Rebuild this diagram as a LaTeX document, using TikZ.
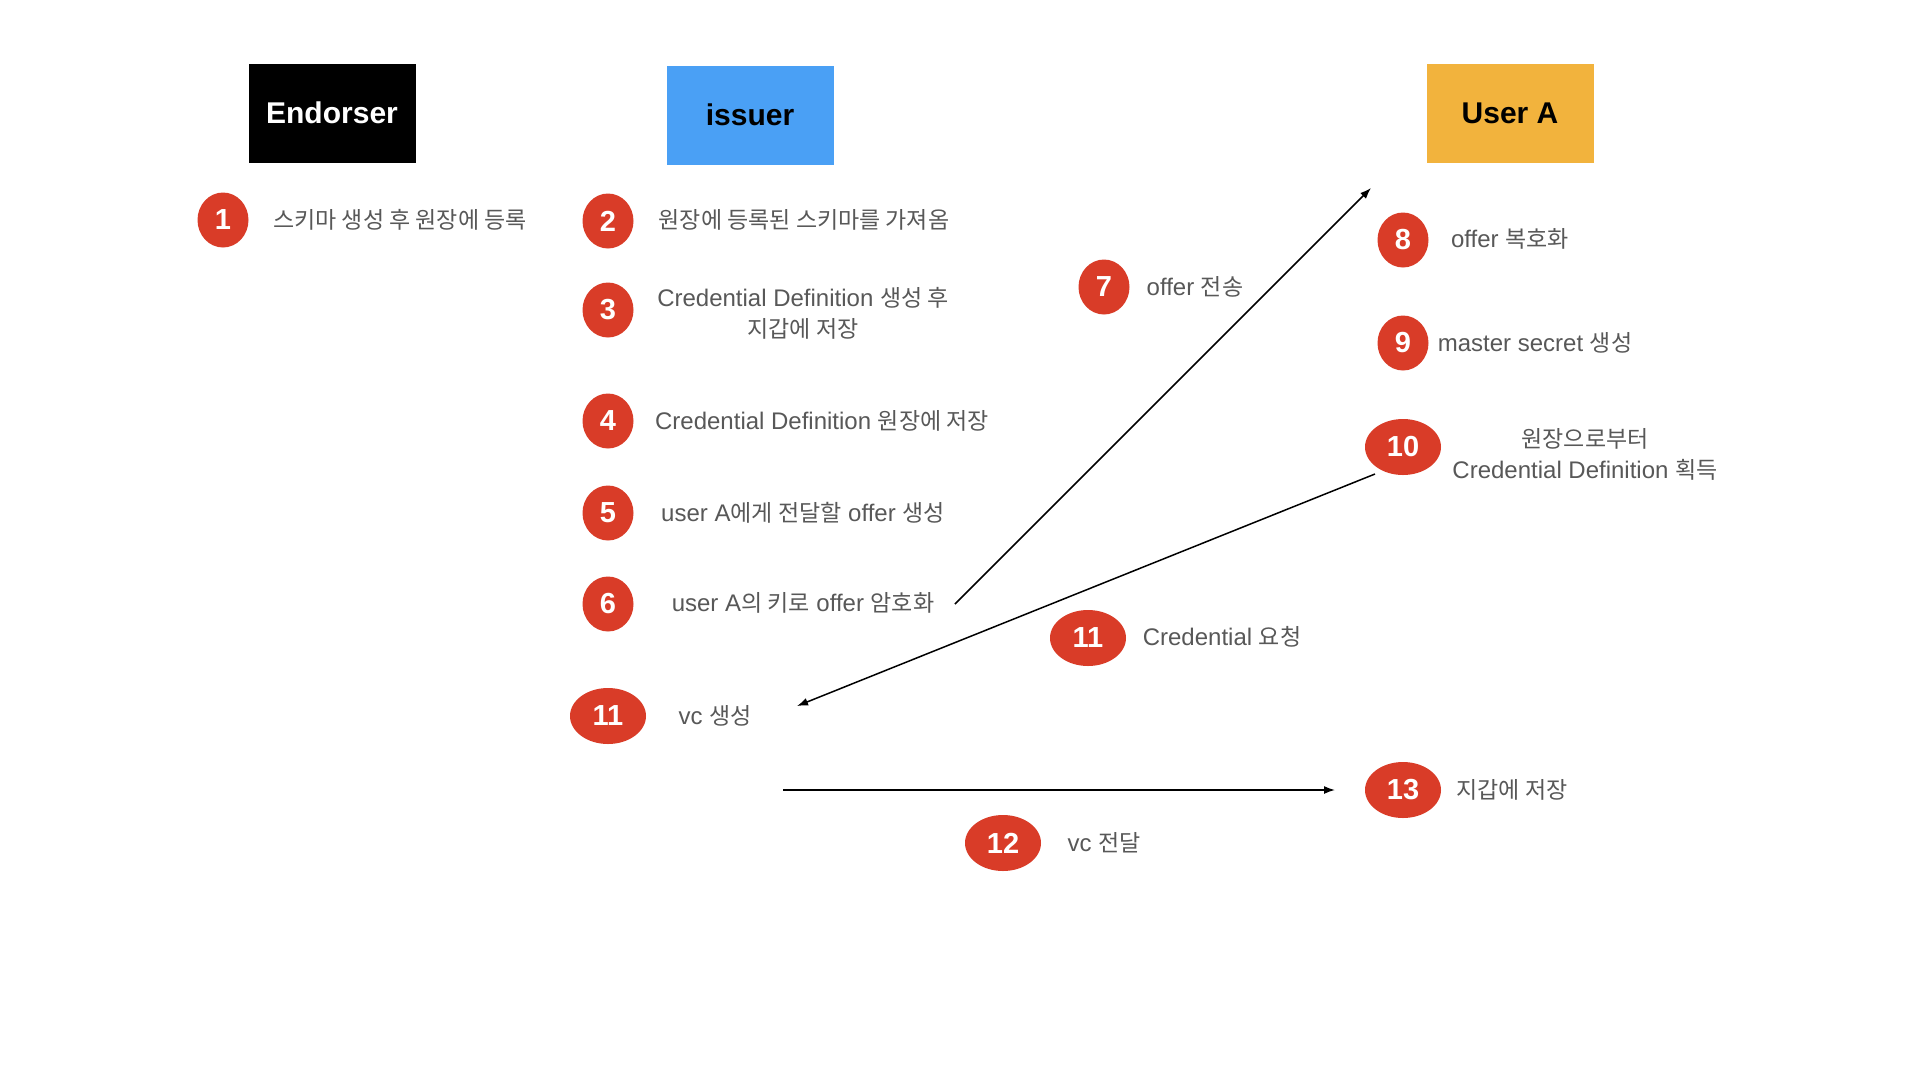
\documentclass[tikz,border=0pt]{standalone}
\usepackage{fontspec}
\setmainfont{Liberation Sans}
\newfontfamily\krfont{Noto Sans CJK KR}
\usetikzlibrary{shapes.geometric,arrows.meta}
\definecolor{numred}{RGB}{217,60,40}
\definecolor{issuerblue}{RGB}{74,160,245}
\definecolor{userorange}{RGB}{242,179,61}
\definecolor{txtgray}{RGB}{88,88,88}
\newcommand\K[1]{{\krfont\fontsize{23}{27}\selectfont #1}}
\begin{document}
\begin{tikzpicture}[x=1pt,y=-1pt,
  actor/.style={minimum width=167pt,minimum height=99pt,inner sep=0pt,font=\fontsize{30}{36}\selectfont\bfseries},
  num/.style={ellipse,fill=numred,text=white,minimum width=51pt,minimum height=55pt,inner sep=0pt,font=\fontsize{29}{34}\selectfont\bfseries},
  numw/.style={num,minimum width=76pt,minimum height=56pt},
  lbl/.style={text=txtgray,font=\fontsize{24}{30}\selectfont,inner sep=0pt,align=center},
  flow/.style={line width=1.5pt,-{Latex[length=11pt,width=8pt]}}]
\useasboundingbox (0,0) rectangle (1920,1080);
\fill[white] (0,0) rectangle (1920,1080);

% actors
\node[actor,fill=black,text=white] (endorser) at (332,113) {Endorser};
\node[actor,fill=issuerblue,text=black] (issuer) at (750,115) {issuer};
\node[actor,fill=userorange,text=black] (usera) at (1510,113) {User A};

% steps
\node[num] (n1) at (223,220) {1};
\node[lbl] (t1) at (400,220) {\K{스키마 생성 후 원장에 등록}};

\node[num] (n2) at (608,221) {2};
\node[lbl] (t2) at (804,220) {\K{원장에 등록된 스키마를 가져옴}};

\node[num] (n3) at (608,310) {3};
\node[lbl] (t3) at (803,313) {Credential Definition \K{생성 후}\\[1pt]\K{지갑에 저장}};

\node[num] (n4) at (608,421) {4};
\node[lbl] (t4) at (822,421) {Credential Definition \K{원장에 저장}};

\node[num] (n5) at (608,513) {5};
\node[lbl] (t5) at (803,513) {user A\K{에게 전달할} offer \K{생성}};

\node[num] (n6) at (608,604) {6};
\node[lbl] (t6) at (803,603) {user A\K{의 키로} offer \K{암호화}};

\node[num] (n7) at (1104,287) {7};
\node[lbl] (t7) at (1195,287) {offer \K{전송}};

\node[num] (n8) at (1403,240) {8};
\node[lbl] (t8) at (1510,239) {offer \K{복호화}};

\node[num] (n9) at (1403,343) {9};
\node[lbl] (t9) at (1535,343) {master secret \K{생성}};

\node[numw] (n10) at (1403,447) {10};
\node[lbl] (t10) at (1585,454) {\K{원장으로부터}\\[1pt]Credential Definition \K{획득}};

\node[numw] (n11b) at (1088,638) {11};
\node[lbl] (t11b) at (1222,637) {Credential \K{요청}};

\node[numw] (n11a) at (608,716) {11};
\node[lbl] (t11a) at (715,716) {vc \K{생성}};

\node[numw] (n12) at (1003,843) {12};
\node[lbl] (t12) at (1104,843) {vc \K{전달}};

\node[numw] (n13) at (1403,790) {13};
\node[lbl] (t13) at (1512,790) {\K{지갑에 저장}};

% connectors
\coordinate (p7a) at (955,604);
\coordinate (p7b) at (1371,188);
\coordinate (p10a) at (1375,474);
\coordinate (p11) at (797,706);
\coordinate (p12a) at (783,790);
\coordinate (p12b) at (1335,790);

\draw[flow] (p7a) -- (p7b);
\draw[flow] (p10a) -- (p11);
\draw[flow] (p12a) -- (p12b);
\end{tikzpicture}
\end{document}
